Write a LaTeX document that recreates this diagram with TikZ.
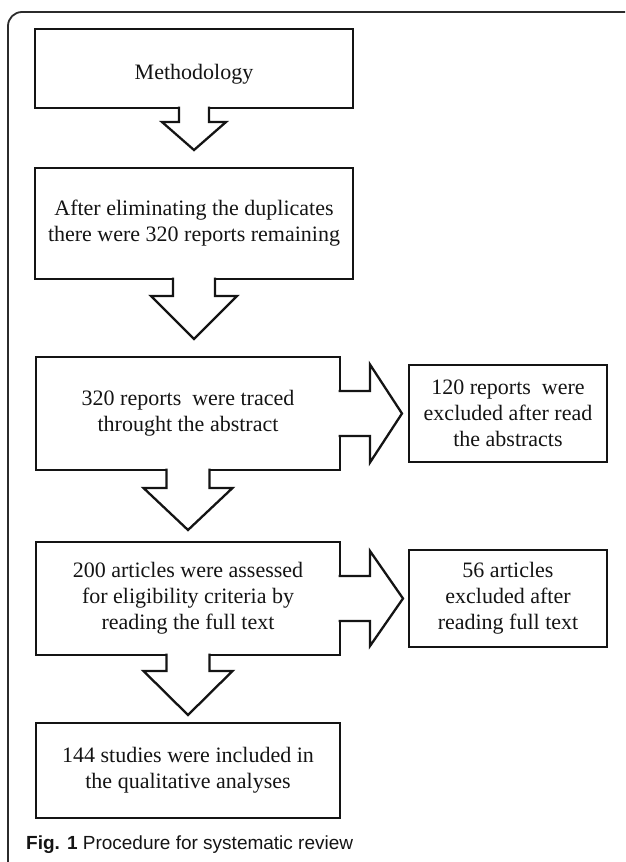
\documentclass[tikz,border=0pt]{standalone}
\usepackage{fontspec}
\setmainfont{Liberation Serif}
\newfontfamily\captionfont{Liberation Sans}
\usepackage{xcolor}
\usepackage{tikz}
\usetikzlibrary{positioning}
\definecolor{revInk}{HTML}{141414}
\definecolor{revFrame}{HTML}{2B2B2B}
\tikzset{
  stage/.style={draw=revInk, line width=2.6pt, outer sep=0pt, inner sep=0pt, align=center, text=revInk, font=\fontsize{22}{26}\selectfont},
  stageWide/.style={stage, minimum width=318pt},
  stageMain/.style={stage, minimum width=304pt, minimum height=113pt},
  stageSide/.style={stage, minimum width=198pt, minimum height=97pt},
  blockLine/.style={draw=revInk, line width=2.3pt, line join=miter},
  frameLine/.style={draw=revFrame, line width=1.8pt, rounded corners=14pt}
}
% block arrow: anchor, rotation, stem half width, head half width, stem length, head length
\newcommand{\flowarrow}[6]{%
  \begin{scope}[shift={(#1)}, rotate=#2]
    \fill[white] (-#3,1.6) -- (-#3,-#5) -- (-#4,-#5) -- (0,-#5-#6) -- (#4,-#5) -- (#3,-#5) -- (#3,1.6) -- cycle;
    \draw[blockLine] (-#3,1.3) -- (-#3,-#5) -- (-#4,-#5) -- (0,-#5-#6) -- (#4,-#5) -- (#3,-#5) -- (#3,1.3);
  \end{scope}}

\begin{document}
\begin{tikzpicture}[x=1pt, y=1pt]
  \useasboundingbox (0,0) rectangle (625,-862);
  \draw[frameLine] (8,-862) -- (8,-12) -- (625,-12);
  \node[stageWide, minimum height=79pt] (meth) at (194,-68.5) {\raisebox{-6pt}[\height][\depth]{Methodology}};
  \node[stageWide, minimum height=111pt, below=60pt of meth] (dup) {After eliminating the duplicates\\there were 320 reports remaining};
  \node[stageMain, below right=78pt and 1pt of dup.south west] (trace) {320 reports~ were traced\\throught the abstract};
  \node[stageSide, right=69pt of trace] (excl1) {120 reports~ were\\excluded after read\\the abstracts};
  \node[stageMain, below=72pt of trace] (assess) {200 articles were assessed\\for eligibility criteria by\\reading the full text};
  \node[stageSide, right=69pt of assess] (excl2) {56 articles\\excluded after\\reading full text};
  \node[stageMain, minimum height=95pt, below=68pt of assess] (incl) {144 studies were included in\\the qualitative analyses};
  \flowarrow{meth.south}{0}{15}{32}{14}{28}
  \flowarrow{dup.south}{0}{21}{43}{17}{43}
  \flowarrow{trace.south}{0}{21.5}{44.5}{18}{42}
  \flowarrow{assess.south}{0}{21.5}{44.5}{16}{44}
  \flowarrow{trace.east}{90}{22.5}{49}{30}{32}
  \flowarrow{assess.east}{90}{22.5}{47.5}{30}{33}
  \node[anchor=base west, inner sep=0pt, text=revInk, font=\captionfont\fontsize{19}{22}\selectfont] (caption) at (26,-849) {\textbf{Fig. 1} Procedure for systematic review};
\end{tikzpicture}
\end{document}
